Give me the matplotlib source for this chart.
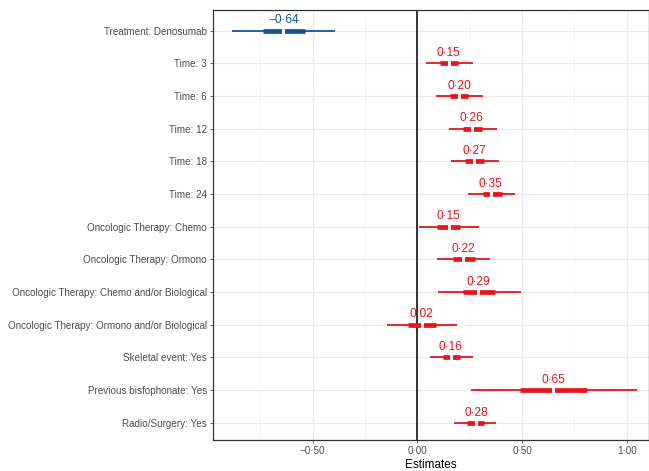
import matplotlib
matplotlib.use("Agg")
import matplotlib.pyplot as plt

plt.rcParams['font.family'] = ['Liberation Sans', 'DejaVu Sans']

terms = ["Treatment: Denosumab", "Time: 3", "Time: 6", "Time: 12", "Time: 18", "Time: 24",
         "Oncologic Therapy: Chemo", "Oncologic Therapy: Ormono",
         "Oncologic Therapy: Chemo and/or Biological",
         "Oncologic Therapy: Ormono and/or Biological",
         "Skeletal event: Yes", "Previous bisfophonate: Yes", "Radio/Surgery: Yes"]
estimates = [-0.64, 0.15, 0.20, 0.26, 0.27, 0.35, 0.15, 0.22, 0.29, 0.02, 0.16, 0.65, 0.28]
ci_low = [-0.887, 0.042, 0.089, 0.153, 0.161, 0.244, 0.008, 0.093, 0.100, -0.144, 0.061, 0.257, 0.176]
ci_high = [-0.394, 0.265, 0.313, 0.380, 0.388, 0.467, 0.294, 0.348, 0.495, 0.191, 0.268, 1.050, 0.377]
in_low = [-0.738, 0.109, 0.156, 0.220, 0.228, 0.313, 0.093, 0.169, 0.217, -0.043, 0.122, 0.488, 0.236]
in_high = [-0.537, 0.196, 0.244, 0.308, 0.316, 0.404, 0.204, 0.273, 0.373, 0.089, 0.204, 0.812, 0.316]
xticks = [-0.5, 0.0, 0.5, 1.0]
xtick_labels = ["\u22120\u00b750", "0\u00b700", "0\u00b750", "1\u00b700"]
minor_ticks = [-0.75, -0.25, 0.25, 0.75]

RED = "#E8141A"
BLUE = "#16549A"

fig = plt.figure(figsize=(6.49, 4.71), dpi=100)
ax = fig.add_axes([213 / 649, (471 - 440) / 471, (648.5 - 213) / 649, (440 - 10) / 471])

ax.set_xlim(-0.976, 1.104)
ax.set_ylim(12.53, -0.63)

# grid
for x in xticks:
    ax.axvline(x, color="#ebebeb", lw=0.9, zorder=0)
for x in minor_ticks:
    ax.axvline(x, color="#f2f2f2", lw=0.6, zorder=0)
for i in range(len(terms)):
    ax.axhline(i, color="#ebebeb", lw=0.9, zorder=0)

ax.axvline(0, color="black", lw=1.1, zorder=1)

for i, t in enumerate(terms):
    c = BLUE if estimates[i] < 0 else RED
    ax.plot([ci_low[i], ci_high[i]], [i, i], color=c, lw=1.3, solid_capstyle='butt', zorder=2)
    ax.plot([in_low[i], in_high[i]], [i, i], color=c, lw=3.4, solid_capstyle='butt', zorder=3)
    ax.plot([estimates[i]], [i], marker='|', ms=4.2, mew=2.1, color='white', zorder=4)
    lbl = ("\u2212" if estimates[i] < 0 else "") + f"{abs(estimates[i]):.2f}".replace(".", "\u00b7")
    ax.annotate(lbl, (estimates[i], i), xytext=(0, 3.0), textcoords='offset points',
                ha='center', va='bottom', color=c, fontsize=8.6)

ax.set_yticks(range(len(terms)))
ax.set_yticklabels(terms)
ax.set_xticks(xticks)
ax.set_xticklabels(xtick_labels)
ax.tick_params(axis='both', labelsize=7.1, colors="#4d4d4d", length=2.5, width=0.6, pad=2)
ax.tick_params(axis='both', labelcolor="#4d4d4d")
for s in ax.spines.values():
    s.set_color("#333333")
    s.set_linewidth(0.9)
ax.set_xlabel("Estimates", fontsize=8.5, color="black", labelpad=2)

fig.savefig("out.png", dpi=100)
